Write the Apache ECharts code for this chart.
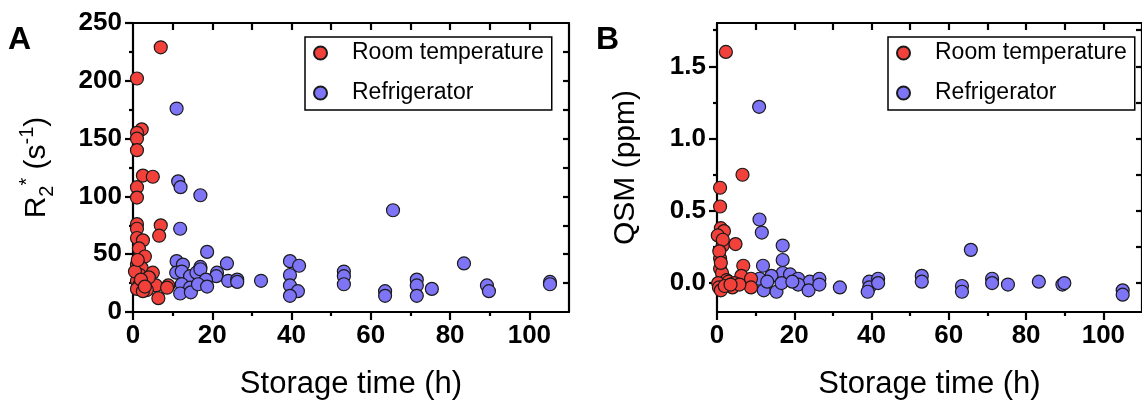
<!DOCTYPE html>
<html><head><meta charset="utf-8">
<script src="https://cdn.jsdelivr.net/npm/echarts@6/dist/echarts.min.js"></script>
<style>html,body{margin:0;padding:0;background:#fff}#c{width:1142px;height:405px}</style>
</head><body><div id="c"></div>
<script>
// ---- data ----
var seriesNames = ['Room temperature', 'Refrigerator'];
var roomA = [[7,229],[1,202],[2.2,158],[1,155],[1,150],[1,140],[2.5,118],[5,117],[1,108],[1,99],[1,76],[1,72],[7,75],[6.6,66],[1,64],[2.5,62],[1.5,55],[3,48],[1,41],[1.5,39],[2.2,38],[1.7,32],[5,34],[1,27],[1.7,24],[3.9,24],[5.8,23],[8.9,23],[8.6,21],[1,20],[3.5,19],[6.4,12],[2.5,18],[4,30],[0.5,35],[2,28],[3,22],[1.2,45]];
var fridgeA = [[11,176],[11.4,113],[12,108],[17,101],[11.9,72],[18.7,52],[11,44],[12.6,41],[23.7,42],[17,39],[10.9,34],[12.3,35],[21.2,34],[21,31],[14.4,31],[16,34],[17,37],[18.4,28],[24,27],[26.3,28],[26.3,26],[32.3,27],[12.3,24],[14.4,21],[11.9,16],[14.6,17],[16.4,24],[18.7,22],[39.6,44],[41.9,40],[39.6,32],[39.6,23],[41.6,18],[39.6,14],[53.2,35],[53.2,31],[53.2,24],[63.6,18],[63.6,14],[65.6,88],[71.6,28],[71.6,23],[71.6,14],[75.4,20],[83.5,42],[89.3,23],[89.8,18],[105.2,26],[105.2,24]];
var roomB = [[2.3,1.60],[6.6,0.75],[0.8,0.66],[0.8,0.53],[1,0.38],[1.8,0.36],[0.2,0.33],[1.5,0.26],[4.8,0.27],[0.8,0.17],[0.8,0.10],[6.8,0.12],[1.3,0.07],[6.3,0.05],[8.8,0.03],[2.5,0.02],[0.3,0.0],[3,0.01],[4.5,0],[8.8,-0.03],[0.5,-0.03],[4,-0.03],[1,-0.05],[5.8,-0.01],[1.5,0.3],[2,-0.02],[3.5,-0.01],[0.6,0.22],[1,0.14]];
var fridgeB = [[10.9,1.22],[11,0.44],[11.6,0.35],[17,0.26],[17,0.16],[11.9,0.12],[17,0.07],[18.9,0.06],[11,0.03],[14.1,0.05],[21,0.03],[24,0.01],[26.5,0.03],[12.1,-0.05],[15.4,-0.06],[16.7,0],[21,-0.01],[23.7,-0.05],[26.5,-0.01],[31.8,-0.03],[39.4,0.01],[39.4,-0.03],[41.7,0.03],[41.7,0],[39,-0.06],[53,0.05],[53,0.01],[63.4,-0.02],[63.4,-0.06],[65.7,0.23],[71.2,0.03],[71.2,0],[75.3,-0.01],[83.3,0.01],[89.4,-0.01],[89.9,0],[105,-0.05],[105,-0.08],[13,0.01],[19.5,0.01]];
// ---- ticks ----
var xRange = [0, 110];
var xMajor = [0,20,40,60,80,100];
var xMinor = [10,30,50,70,90];
var xTop = [10,20,30,40,50,60,70,80,90,100];
var yRangeA = [0, 250];
var yMajorA = [0,50,100,150,200,250];
var yMinorA = [25,75,125,175,225];
var yRightA = [25,50,75,100,125,150,175,200,225];
var yRangeB = [-0.2, 1.8];
var yMajorB = [0,0.5,1.0,1.5];
var yMinorB = [0.25,0.75,1.25,1.75];
var yRightB = [0,0.25,0.5,0.75,1.0,1.25,1.5,1.75];
var colors = ['#f2403a', '#7d74f6'];

var FONT = '"Liberation Sans", Arial, Helvetica, sans-serif';
var LINE = {color: '#000', width: 2.2};

function xAxes(grid, title) {
  return [
    {gridIndex: grid, type: 'value', position: 'bottom', min: xRange[0], max: xRange[1],
     axisLine: {show: true, onZero: false, lineStyle: LINE}, splitLine: {show: false},
     axisTick: {show: true, inside: false, length: 8, lineStyle: LINE, customValues: xMajor},
     axisLabel: {show: true, customValues: xMajor, margin: 11, fontSize: 26, fontWeight: 'bold', color: '#000', fontFamily: FONT},
     name: title, nameLocation: 'middle', nameGap: 57,
     nameTextStyle: {fontSize: 31, color: '#000', fontFamily: FONT}},
    {gridIndex: grid, type: 'value', position: 'bottom', min: xRange[0], max: xRange[1],
     axisLine: {show: false, onZero: false}, splitLine: {show: false},
     axisTick: {show: true, inside: false, length: 4, lineStyle: LINE, customValues: xMinor},
     axisLabel: {show: false}},
    {gridIndex: grid, type: 'value', position: 'top', min: xRange[0], max: xRange[1],
     axisLine: {show: true, onZero: false, lineStyle: LINE}, splitLine: {show: false},
     axisTick: {show: true, inside: true, length: 7, lineStyle: LINE, customValues: xTop},
     axisLabel: {show: false}}
  ];
}
function yAxes(grid, range, major, minor, right, fmt, name, nameGap, rich) {
  return [
    {gridIndex: grid, type: 'value', position: 'left', min: range[0], max: range[1],
     axisLine: {show: true, onZero: false, lineStyle: LINE}, splitLine: {show: false},
     axisTick: {show: true, inside: false, length: 8, lineStyle: LINE, customValues: major},
     axisLabel: {show: true, customValues: major, margin: 11, fontSize: 26, fontWeight: 'bold', color: '#000', fontFamily: FONT, formatter: fmt},
     name: name, nameLocation: 'middle', nameGap: nameGap, nameRotate: 90,
     nameTextStyle: {fontSize: 30, color: '#000', fontFamily: FONT, rich: rich}},
    {gridIndex: grid, type: 'value', position: 'left', min: range[0], max: range[1],
     axisLine: {show: false, onZero: false}, splitLine: {show: false},
     axisTick: {show: true, inside: false, length: 4, lineStyle: LINE, customValues: minor},
     axisLabel: {show: false}},
    {gridIndex: grid, type: 'value', position: 'right', min: range[0], max: range[1],
     axisLine: {show: true, onZero: false, lineStyle: LINE}, splitLine: {show: false},
     axisTick: {show: true, inside: true, length: 6, lineStyle: LINE, customValues: right},
     axisLabel: {show: false}}
  ];
}
var richR = {
  b: {fontSize: 30, fontFamily: FONT, color: '#000', lineHeight: 40},
  sub: {fontSize: 20, fontFamily: FONT, color: '#000', verticalAlign: 'bottom', lineHeight: 40},
  sup: {fontSize: 20, fontFamily: FONT, color: '#000', verticalAlign: 'top', lineHeight: 40}
};
function scatter(name, data, xi, yi, color) {
  return {type: 'scatter', name: name, data: data, xAxisIndex: xi, yAxisIndex: yi,
    symbol: 'circle', symbolSize: 13,
    itemStyle: {color: color, borderColor: '#1a1a1a', borderWidth: 1.2, opacity: 1},
    emphasis: {disabled: true}};
}
function legend(left) {
  return {left: left, top: 37, orient: 'vertical', data: seriesNames,
    backgroundColor: '#fff', borderColor: '#000', borderWidth: 1.5, borderRadius: 0,
    padding: [3, 8, 4, 8], itemWidth: 13, itemHeight: 13, itemGap: 14, icon: 'circle',
    textStyle: {fontSize: 23, color: '#000', fontFamily: FONT, lineHeight: 26, padding: [0, 0, 0, 20]},
    selectedMode: false};
}

var chart = echarts.init(document.getElementById('c'), null, {renderer: 'canvas'});
chart.setOption({
  animation: false,
  backgroundColor: '#fff',
  grid: [
    {left: 133, top: 23, width: 436, height: 290},
    {left: 717, top: 23, width: 435, height: 290}
  ],
  xAxis: xAxes(0, 'Storage time (h)').concat(xAxes(1, 'Storage time (h)')),
  yAxis: yAxes(0, yRangeA, yMajorA, yMinorA, yRightA, null,
               '{b|R}{sub|2}{sup|*}{b| (s}{sup|-1}{b|)}', 76, richR)
         .concat(yAxes(1, yRangeB, yMajorB, yMinorB, yRightB, function (v) { return v.toFixed(1); },
               'QSM (ppm)', 76, null)),
  legend: [legend(305), legend(888)],
  series: [
    scatter(seriesNames[1], fridgeA, 0, 0, colors[1]),
    scatter(seriesNames[0], roomA, 0, 0, colors[0]),
    scatter(seriesNames[1], fridgeB, 3, 3, colors[1]),
    scatter(seriesNames[0], roomB, 3, 3, colors[0])
  ],
  graphic: [
    {type: 'text', left: 8, top: 24, style: {text: 'A', fontSize: 32, fontWeight: 'bold', fill: '#000', fontFamily: FONT}},
    {type: 'text', left: 596, top: 24, style: {text: 'B', fontSize: 32, fontWeight: 'bold', fill: '#000', fontFamily: FONT}}
  ]
});
</script></body></html>
